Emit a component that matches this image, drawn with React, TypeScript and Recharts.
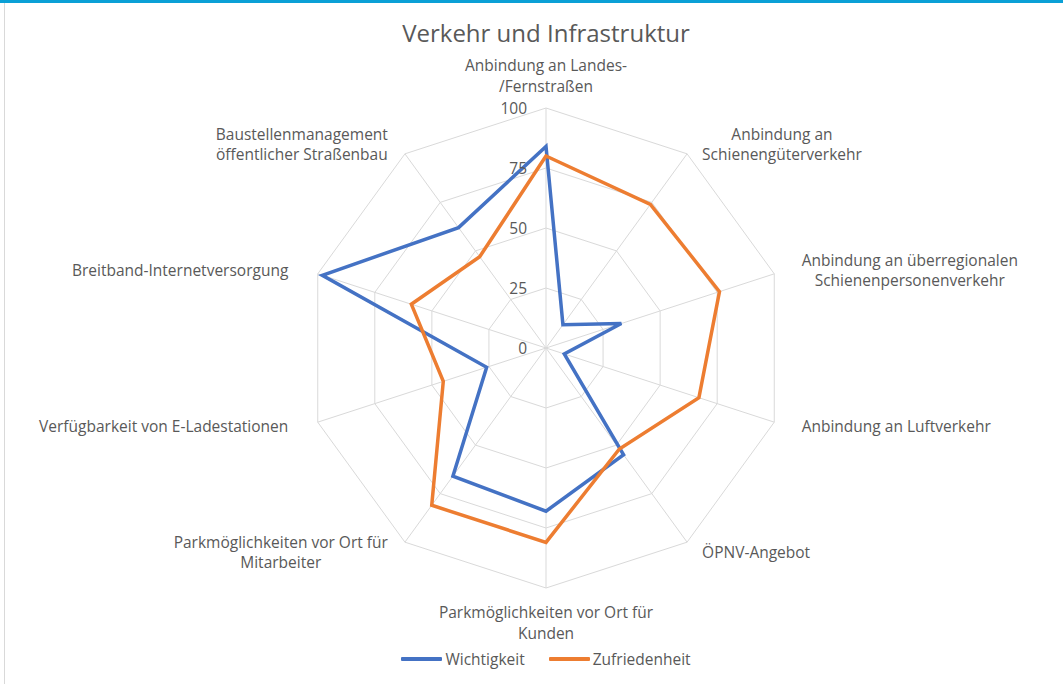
import { Legend, PolarAngleAxis, PolarGrid, PolarRadiusAxis, Radar, RadarChart } from "recharts";

const categories = [
  "Anbindung an Landes-\n/Fernstraßen",
  "Anbindung an\nSchienengüterverkehr",
  "Anbindung an überregionalen\nSchienenpersonenverkehr",
  "Anbindung an Luftverkehr",
  "ÖPNV-Angebot",
  "Parkmöglichkeiten vor Ort für\nKunden",
  "Parkmöglichkeiten vor Ort für\nMitarbeiter",
  "Verfügbarkeit von E-Ladestationen",
  "Breitband-Internetversorgung",
  "Baustellenmanagement\nöffentlicher Straßenbau",
];
const wichtigkeit = [84, 12, 33, 8, 55, 68, 66, 26, 98, 62];
const zufriedenheit = [80, 74, 76, 67, 52, 81, 81, 45, 59, 47];
const radiusTicks = [0, 25, 50, 75, 100];

const data = categories.map((name, i) => ({
  name,
  wichtigkeit: wichtigkeit[i],
  zufriedenheit: zufriedenheit[i],
}));

const FONT = "'Open Sans', sans-serif";
const TEXT = "#595959";
const CX = 546;
const CY = 348;
const R = 240;
const FS = 15.5;
const LH = 20.5;

let ctx: CanvasRenderingContext2D | null = null;
function measure(s: string) {
  if (!ctx) ctx = document.createElement("canvas").getContext("2d");
  if (!ctx) return s.length * 8;
  ctx.font = `${FS}px 'Open Sans'`;
  return ctx.measureText(s).width;
}

function AngleTick(props: any) {
  const { payload } = props;
  const i = payload.index;
  const lines: string[] = String(payload.value).split("\n");
  const theta = ((90 - i * 36) * Math.PI) / 180;
  const c = Math.cos(theta);
  const s = Math.sin(theta);
  let x = CX + (R + 12) * c;
  const y = CY - (R + 12) * s;
  const w = Math.max(...lines.map(measure));
  const h = lines.length * LH;
  // horizontal axes sit a bit further out than diagonal ones
  const off = Math.abs(c) > 0.9 ? 16 : 8;
  if (c > 0.1) x = x + off + w / 2;
  else if (c < -0.1) x = x - off - 2 - w / 2;
  let top = y - h / 2;
  if (i === 0) top = CY - R - 12 - h;
  if (i === 5) top = CY + R + 14;
  return (
    <text textAnchor="middle" fontFamily={FONT} fontSize={FS} fill={TEXT}>
      {lines.map((l, k) => (
        <tspan key={k} x={x} y={top + k * LH + LH / 2} dominantBaseline="central">
          {l}
        </tspan>
      ))}
    </text>
  );
}

function RadiusTick(props: any) {
  const { payload, y } = props;
  return (
    <text x={CX - 19} y={y} textAnchor="end" dominantBaseline="central" fontFamily={FONT} fontSize={FS} fill={TEXT}>
      {payload.value}
    </text>
  );
}

function LegendContent() {
  const items = [
    { label: "Wichtigkeit", color: "#4472C4" },
    { label: "Zufriedenheit", color: "#ED7D31" },
  ];
  return (
    <div style={{ display: "flex", justifyContent: "center", gap: 24, fontFamily: FONT, fontSize: FS, color: TEXT }}>
      {items.map((it) => (
        <div key={it.label} style={{ display: "flex", alignItems: "center", gap: 3 }}>
          <span style={{ width: 41, height: 4, background: it.color, display: "inline-block", borderRadius: 1 }} />
          <span>{it.label}</span>
        </div>
      ))}
    </div>
  );
}

export default function App() {
  return (
    <div style={{ position: "absolute", left: 0, top: 0, width: 1063, height: 684, background: "#fff", overflow: "hidden" }}>
      <div style={{ position: "absolute", left: 0, top: 0, width: 1063, height: 3, background: "#0AA0D6" }} />
      <div style={{ position: "absolute", left: 4, top: 3, width: 1, height: 681, background: "#d9d9d9" }} />
      <div
        style={{
          position: "absolute",
          left: 0,
          top: 16,
          width: 1092,
          textAlign: "center",
          fontFamily: FONT,
          fontSize: 24,
          color: TEXT,
        }}
      >
        Verkehr und Infrastruktur
      </div>
      <RadarChart width={1063} height={684} data={data} cx={CX} cy={CY} outerRadius={R} margin={{ top: 0, right: 0, bottom: 0, left: 0 }}>
        <PolarGrid gridType="polygon" stroke="#d9d9d9" strokeWidth={1} />
        <PolarAngleAxis dataKey="name" tick={<AngleTick />} tickLine={false} axisLine={false} />
        <PolarRadiusAxis
          angle={90}
          domain={[0, 100]}
          ticks={radiusTicks}
          tick={<RadiusTick />}
          axisLine={false}
          tickLine={false}
        />
        <Radar
          name="Wichtigkeit"
          dataKey="wichtigkeit"
          stroke="#4472C4"
          strokeWidth={3.5}
          fill="none"
          fillOpacity={0}
          dot={false}
          isAnimationActive={false}
        />
        <Radar
          name="Zufriedenheit"
          dataKey="zufriedenheit"
          stroke="#ED7D31"
          strokeWidth={3.5}
          fill="none"
          fillOpacity={0}
          dot={false}
          isAnimationActive={false}
        />
        <Legend content={<LegendContent />} wrapperStyle={{ top: 648, left: 0, width: 1092 }} />
      </RadarChart>
    </div>
  );
}
